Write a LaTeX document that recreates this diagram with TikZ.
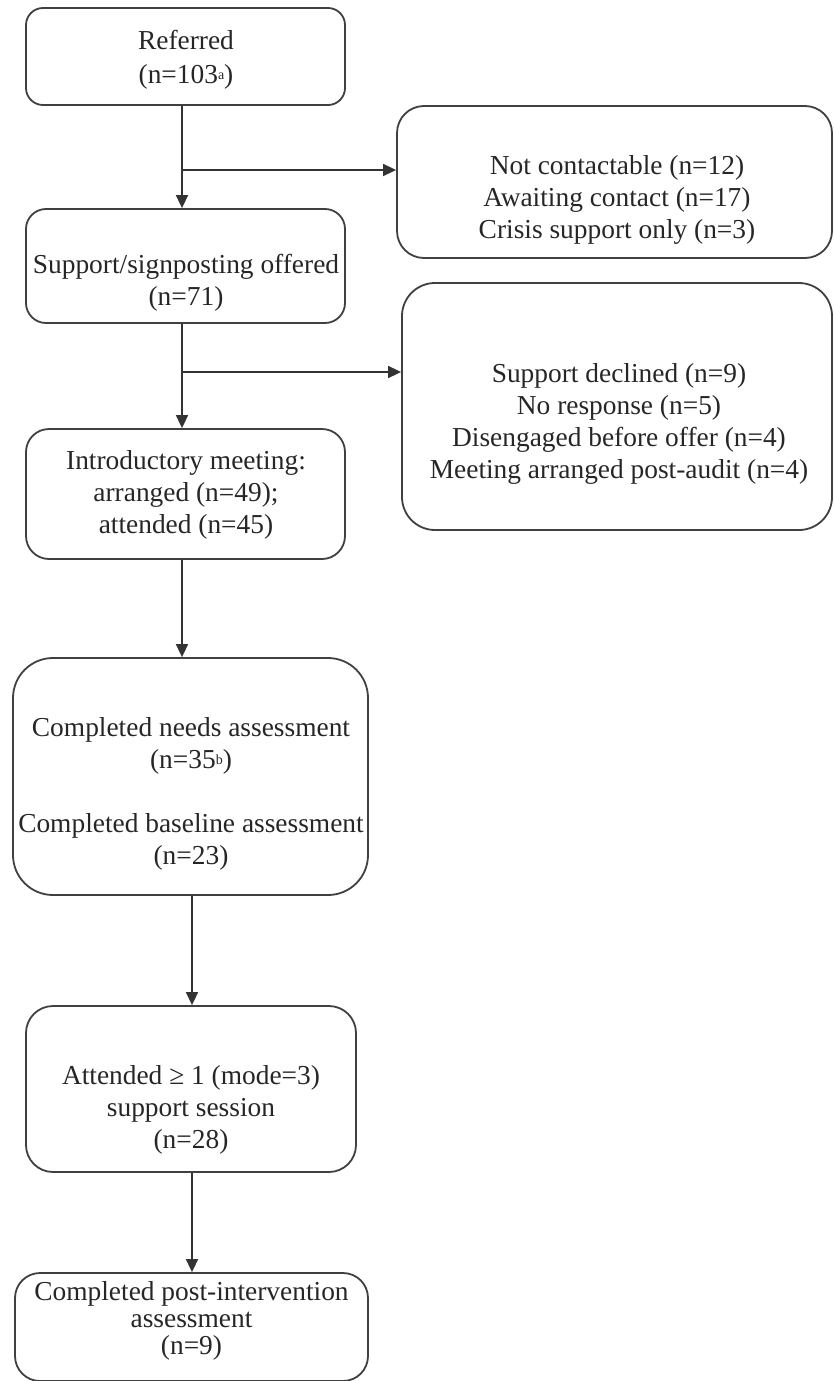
\documentclass[tikz,border=0pt]{standalone}
\usepackage{fontspec}
\setmainfont{Liberation Serif}
\usetikzlibrary{fit,arrows.meta}
\begin{document}
\begin{tikzpicture}[x=0.5pt,y=-0.5pt,
  box/.style={draw=black!75, line width=0.9pt, inner sep=0pt, rounded corners=#1},
  box/.default=10pt,
  txt/.style={align=center, text=black!85, font=\fontsize{13.7}{16}\selectfont, inner sep=0pt},
  arr/.style={draw=black!80, line width=0.8pt, -{Triangle[length=6.5pt,width=6pt]}}]
\useasboundingbox (0,0) rectangle (834,1381);
% boxes
\node[box=8.5pt, fit={(26,8) (345,105)}] (ref) {};
\node[box=13.5pt, fit={(397,106) (832,258)}] (side1) {};
\node[box=10pt, fit={(26,209) (345,323)}] (sup) {};
\node[box=16.5pt, fit={(402,283) (832,530)}] (side2) {};
\node[box=11.5pt, fit={(26,429) (345,559)}] (intro) {};
\node[box=20pt, fit={(13,658) (368,895)}] (needs) {};
\node[box=13.5pt, fit={(26,1006) (356,1172)}] (att) {};
\node[box=12.5pt, fit={(15,1273) (368,1381)}] (post) {};
% texts
\node[txt] (reft) at (186,60) {Referred\\[1pt](n=103{\fontsize{7}{8}\selectfont\raisebox{2pt}{a}})};
\node[txt] (side1t) at (617,200) {Not contactable (n=12)\\Awaiting contact (n=17)\\Crisis support only (n=3)};
\node[txt] (supt) at (186,283) {Support/signposting offered\\(n=71)};
\node[txt] (side2t) at (619,424) {Support declined (n=9)\\No response (n=5)\\Disengaged before offer (n=4)\\Meeting arranged post-audit (n=4)};
\node[txt] (introt) at (186,495) {Introductory meeting:\\arranged (n=49);\\attended (n=45)};
\node[txt] (needst) at (191,794) {Completed needs assessment\\(n=35{\fontsize{7}{8}\selectfont\raisebox{2pt}{b}})\\[16pt]Completed baseline assessment\\(n=23)};
\node[txt] (attt) at (191,1110) {Attended ≥ 1 (mode=3)\\support session\\(n=28)};
\node[txt, font=\fontsize{13.7}{13.5}\selectfont] (postt) at (191.5,1321) {Completed post-intervention\\assessment\\(n=9)};
% connectors
\coordinate (s1) at (182,0);
\coordinate (s2) at (192,0);
\coordinate (b1) at (182,170);
\coordinate (b2) at (182,372);
\draw[arr] (ref.south -| s1) -- (sup.north -| s1);
\draw[arr] (b1) -- (b1 -| side1.west);
\draw[arr] (sup.south -| s1) -- (intro.north -| s1);
\draw[arr] (b2) -- (b2 -| side2.west);
\draw[arr] (intro.south -| s1) -- (needs.north -| s1);
\draw[arr] (needs.south -| s2) -- (att.north -| s2);
\draw[arr] (att.south -| s2) -- (post.north -| s2);
\end{tikzpicture}
\end{document}
